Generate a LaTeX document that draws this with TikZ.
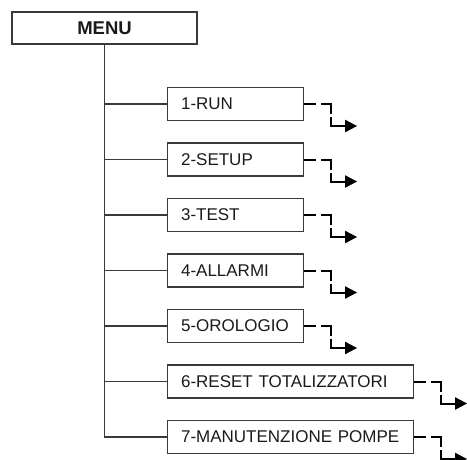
\documentclass[tikz,border=0pt]{standalone}
\usepackage{fontspec}
\setmainfont{Liberation Sans}
\usetikzlibrary{arrows.meta, calc}
\definecolor{cLinea}{HTML}{3A3A3A}
\definecolor{cTesto}{HTML}{1A1A1A}

\begin{document}
\begin{tikzpicture}[
    x=1pt, y=-1pt, text=cTesto,
    testa/.style={draw=cLinea, line width=1.1pt, minimum width=185pt, minimum height=32pt,
                  font=\bfseries\fontsize{18.5}{20}\selectfont},
    voce/.style={draw=cLinea, line width=1.1pt, minimum height=33pt, text width=109pt,
                 inner xsep=13.5pt, align=left, anchor=west, font=\fontsize{17}{19}\selectfont},
    lunga/.style={voce, text width=219pt},
    ramo/.style={draw=cLinea, line width=1.1pt},
    link/.style={draw=black, line width=2pt,
                 dash pattern=on 12pt off 5pt on 20pt off 3pt on 60pt off 0pt,
                 -{Triangle[length=12pt, width=12pt]}},
]

\clip (0,0) rectangle (467,459);

\def\px{167}     % bordo sinistro delle voci
\def\py{104}     % quota della prima voce
\def\dy{55.5}    % passo fra le voci

% ===================== Intestazione =====================
\node[testa] (menu) at (104.5,28) {MENU};

% ===================== Voci del menu =====================
\foreach \t/\s [count=\i] in {1-RUN/voce, 2-SETUP/voce, 3-TEST/voce, 4-ALLARMI/voce,
                              5-OROLOGIO/voce, 6-RESET TOTALIZZATORI/lunga,
                              7-MANUTENZIONE POMPE/lunga} {
    \node[\s] (m\i) at (\px,{\py+(\i-1)*\dy}) {\t};
    \draw[ramo] (menu.south) |- (m\i.west);
    % rimando tratteggiato verso il sottomenu
    \coordinate (k\i) at ($(m\i.east)+(27,22)$);
    \coordinate (t\i) at ($(k\i)+(26,0)$);
    \draw[link] (m\i.east) -| (k\i) -- (t\i);
}

\end{tikzpicture}
\end{document}
